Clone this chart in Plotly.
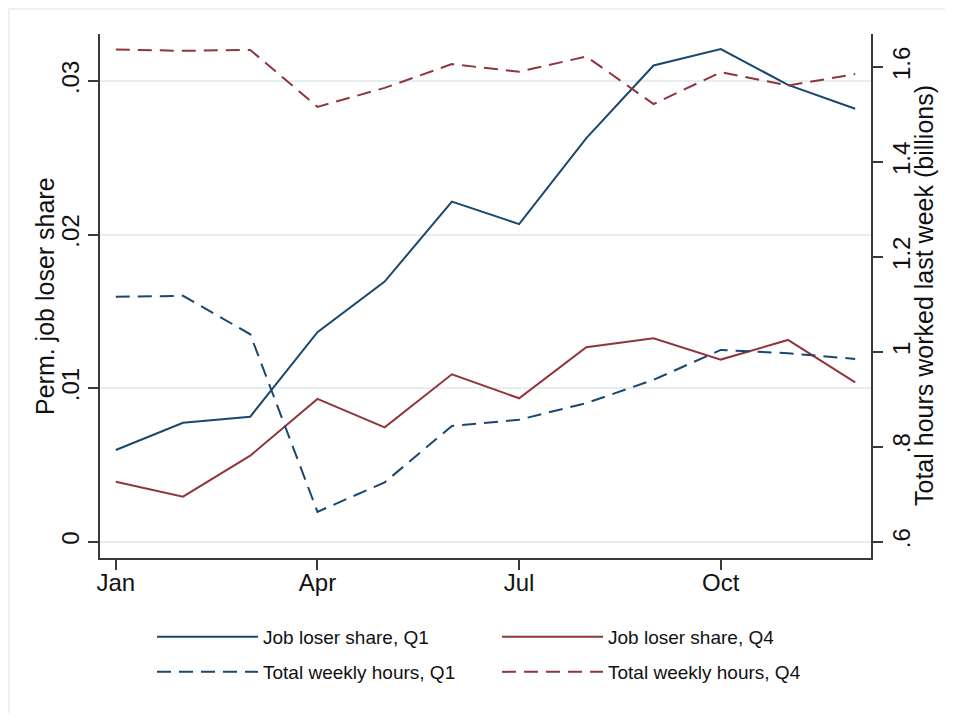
import plotly.graph_objects as go

months = ["Jan", "Feb", "Mar", "Apr", "May", "Jun", "Jul", "Aug", "Sep", "Oct", "Nov", "Dec"]
tick_months = ["Jan", "Apr", "Jul", "Oct"]

job_loser_q1 = [0.00597, 0.00775, 0.00814, 0.01364, 0.01694, 0.02215,
                0.02068, 0.02628, 0.03101, 0.03208, 0.02975, 0.02819]
job_loser_q4 = [0.00391, 0.00293, 0.00560, 0.00930, 0.00745, 0.01090,
                0.00934, 0.01266, 0.01325, 0.01186, 0.01314, 0.01038]
hours_q1 = [1.116, 1.118, 1.037, 0.663, 0.725, 0.844,
            0.857, 0.892, 0.941, 1.004, 0.997, 0.985]
hours_q4 = [1.637, 1.634, 1.636, 1.516, 1.556, 1.606,
            1.590, 1.622, 1.522, 1.589, 1.561, 1.585]

left_ticks = [0, 0.01, 0.02, 0.03]
left_ticktext = ["0", ".01", ".02", ".03"]
right_ticks = [0.6, 0.8, 1.0, 1.2, 1.4, 1.6]
right_ticktext = [".6", ".8", "1", "1.2", "1.4", "1.6"]

NAVY = "#1a476f"
MAROON = "#90353b"
FONT = "Liberation Sans, Arial, sans-serif"
AXIS = "#3a3a3a"
DASH = "14px,8px"

fig = go.Figure()
fig.add_trace(go.Scatter(x=months, y=job_loser_q1, mode="lines", name="Job loser share, Q1",
                         line=dict(color=NAVY, width=2), legend="legend"))
fig.add_trace(go.Scatter(x=months, y=job_loser_q4, mode="lines", name="Job loser share, Q4",
                         line=dict(color=MAROON, width=2), legend="legend2"))
fig.add_trace(go.Scatter(x=months, y=hours_q1, mode="lines", name="Total weekly hours, Q1",
                         line=dict(color=NAVY, width=2, dash=DASH), yaxis="y2", legend="legend3"))
fig.add_trace(go.Scatter(x=months, y=hours_q4, mode="lines", name="Total weekly hours, Q4",
                         line=dict(color=MAROON, width=2, dash=DASH), yaxis="y2", legend="legend4"))

OFF = 8  # page body margin
W, H = 937, 705
L, T = 100 - OFF, 34 - OFF
R = W - (871 - OFF)
B = H - (558 - OFF)
pw, ph = W - L - R, H - T - B

def px_x(p):
    return (p - OFF - L) / pw

def px_y(p):
    return (H - B - (p - OFF)) / ph

leg_common = dict(font=dict(family=FONT, size=19, color="#111"), bgcolor="rgba(0,0,0,0)",
                  itemwidth=101, xanchor="left", yanchor="middle", orientation="v")

fig.update_layout(
    width=W, height=H,
    margin=dict(l=L, r=R, t=T, b=B),
    paper_bgcolor="white", plot_bgcolor="white",
    font=dict(family=FONT, color="#111"),
    showlegend=True,
    legend=dict(x=px_x(152), y=px_y(637), **leg_common),
    legend2=dict(x=px_x(497), y=px_y(637), **leg_common),
    legend3=dict(x=px_x(152), y=px_y(672), **leg_common),
    legend4=dict(x=px_x(497), y=px_y(672), **leg_common),
    xaxis=dict(type="category", categoryorder="array", categoryarray=months,
               range=[-0.235, 11.235], tickmode="array", tickvals=tick_months, ticktext=tick_months,
               showline=True, linecolor=AXIS, linewidth=1.5, mirror=False,
               ticks="outside", ticklen=10, tickwidth=1.5, tickcolor=AXIS,
               ticklabelstandoff=-8,
               showgrid=False, zeroline=False,
               tickfont=dict(family=FONT, size=24, color="#111")),
    yaxis=dict(range=[-0.00106, 0.03306], tickmode="array", tickvals=left_ticks, ticktext=left_ticktext,
               showline=True, linecolor=AXIS, linewidth=1.5,
               ticks="outside", ticklen=10, tickwidth=1.5, tickcolor=AXIS,
               tickangle=-90, showgrid=True, gridcolor="#e6eef1", gridwidth=1.5, zeroline=False,
               tickfont=dict(family=FONT, size=24, color="#111")),
    yaxis2=dict(range=[0.5657, 1.6695], overlaying="y", side="right", tickmode="array",
                tickvals=right_ticks, ticktext=right_ticktext,
                showline=True, linecolor=AXIS, linewidth=1.5,
                ticks="outside", ticklen=10, tickwidth=1.5, tickcolor=AXIS,
                ticklabelstandoff=-2,
                tickangle=-90, showgrid=False, zeroline=False,
                tickfont=dict(family=FONT, size=24, color="#111")),
    annotations=[
        dict(text="Perm. job loser share", xref="paper", yref="paper", x=px_x(45), y=0.5,
             textangle=-90, showarrow=False, xanchor="center", yanchor="middle",
             font=dict(family=FONT, size=25, color="#111")),
        dict(text="Total hours worked last week (billions)", xref="paper", yref="paper",
             x=px_x(924), y=0.5, textangle=-90, showarrow=False, xanchor="center", yanchor="middle",
             font=dict(family=FONT, size=25, color="#111")),
    ],
    shapes=[
        dict(type="rect", xref="paper", yref="paper", x0=px_x(8.8), x1=px_x(990), y0=px_y(760), y1=px_y(9),
             line=dict(color="#e8eef0", width=1.5), fillcolor="rgba(0,0,0,0)", layer="below"),
    ],
)

fig.write_html("out.html")
